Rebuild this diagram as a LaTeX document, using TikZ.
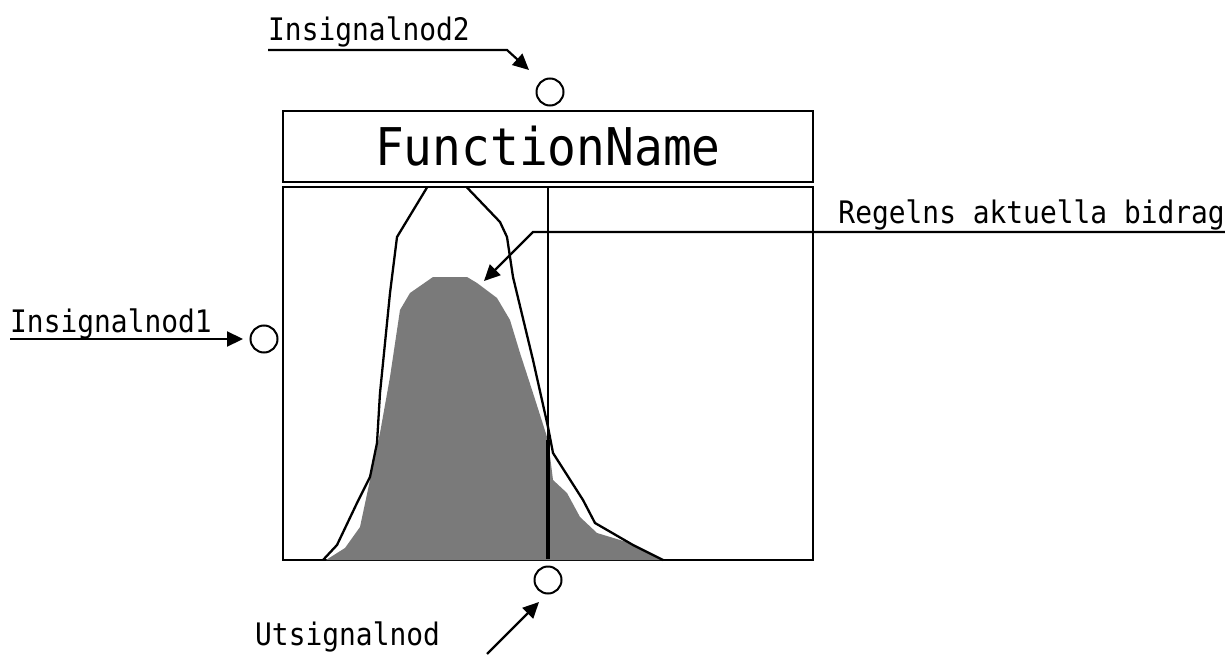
\documentclass[tikz,border=0pt]{standalone}
\usepackage{fontspec}
\usetikzlibrary{arrows.meta}
\newfontfamily\lblfont[FakeStretch=0.9]{DejaVu Sans Mono}
\newfontfamily\titlefont[FakeStretch=0.92]{DejaVu Sans Mono}
\tikzset{
  lbl/.style={inner sep=0pt, font=\lblfont\fontsize{31}{34}\selectfont},
  port/.style={circle, draw, line width=2pt, minimum size=27pt, inner sep=0pt},
  frame/.style={draw, line width=2.6pt},
  arr/.style={line width=2.2pt, -{Triangle[length=16pt,width=15pt]}},
  curve/.style={line width=2.3pt, line join=round},
  share/.style={fill=black!52},
}
\begin{document}
\begin{tikzpicture}[x=1pt,y=-1pt]
\useasboundingbox (0,0) rectangle (1225,655);

% function block: title bar and plot area
\node[frame, minimum width=530pt, minimum height=71pt, inner sep=0pt,
      font=\titlefont\fontsize{52}{58}\selectfont] (title) at (548,146.5) {FunctionName};
\node[frame, minimum width=530pt, minimum height=373pt, inner sep=0pt] (plot) at (548,373.5) {};

% current contribution of the rule (shaded)
\fill[share] (326,560) -- (345,548) -- (360,527) -- (370,480) -- (380,433) -- (390,377)
  -- (400,310) -- (410,293) -- (433,277) -- (467,277) -- (477,283) -- (497,298)
  -- (510,320) -- (520,353) -- (533,393) -- (548,440) -- (553,480) -- (567,493)
  -- (580,517) -- (597,533) -- (630,543) -- (663,560) -- cycle;

% membership function outline
\draw[curve] (323,560) -- (337,545) -- (357,503) -- (370,477) -- (377,443) -- (380,393)
  -- (390,293) -- (397,237) -- (427,187.5);
\draw[curve] (467,187.5) -- (500,222) -- (507,237) -- (513,277) -- (533,360) -- (548,427)
  -- (553,453) -- (583,500) -- (595,523) -- (633,545) -- (663,560);

% current output value
\draw[line width=2.2pt] (548,187) -- (548,440);
\draw[line width=3.6pt] (548,440) -- (548,559);

% signal nodes
\node[port] (in1) at (264,339) {};
\node[port] (in2) at (550,92) {};
\node[port] (out) at (548,580) {};

% labels
\node[lbl, anchor=base west] (l1) at (10,332) {Insignalnod1};
\node[lbl, anchor=base west] (l2) at (268,41) {Insignalnod2};
\node[lbl, anchor=base east] (l3) at (1225,223) {Regelns aktuella bidrag};
\node[lbl, anchor=base west] (l4) at (255,645) {Utsignalnod};

% pointers
\coordinate (t1) at (243,339);
\coordinate (k2) at (507,50);
\coordinate (t2) at (529,70);
\coordinate (k3) at (533,232);
\coordinate (t3) at (484,281);
\coordinate (s4) at (487,654);
\coordinate (t4) at (539,602);

\draw[arr] (l1.west |- t1) -- (t1);
\draw[arr] (l2.west |- k2) -- (k2) -- (t2);
\draw[arr] (l3.east |- k3) -- (k3) -- (t3);
\draw[arr] (s4) -- (t4);
\end{tikzpicture}
\end{document}
